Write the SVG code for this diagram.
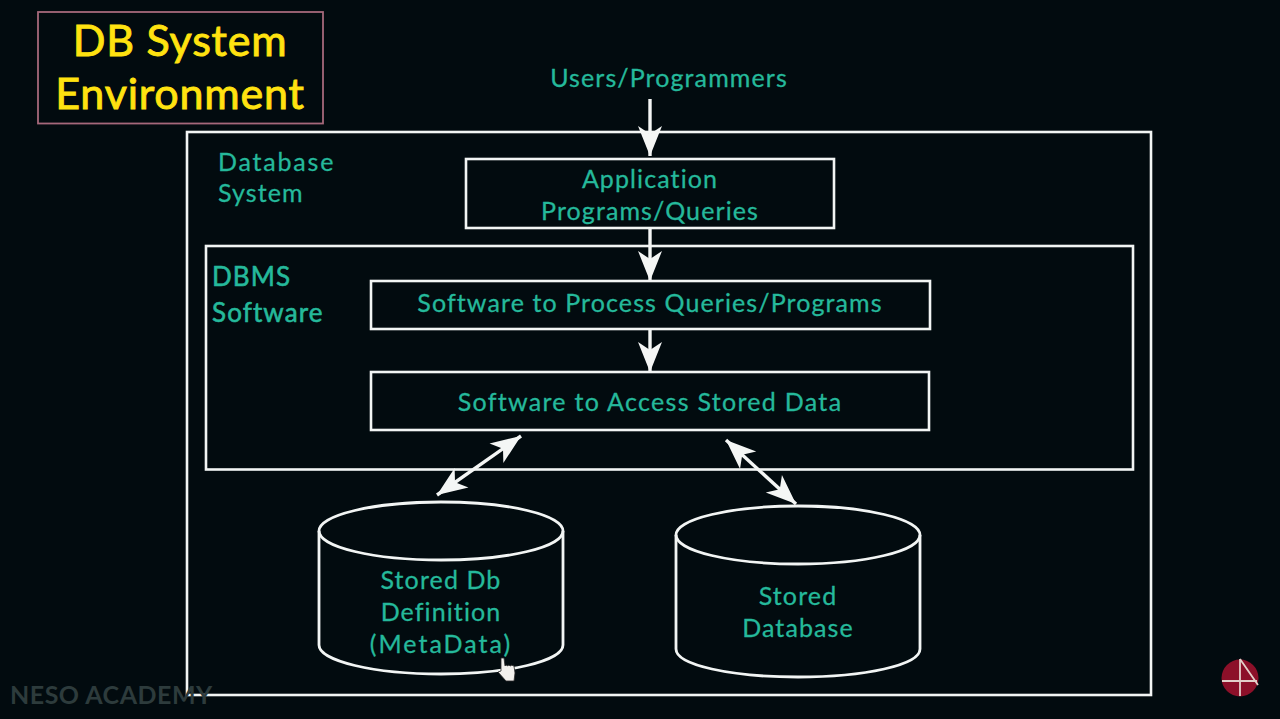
<svg xmlns="http://www.w3.org/2000/svg" width="1280" height="719" viewBox="0 0 1280 719">
<style>
.box{fill:none;stroke:#f2f5f4;stroke-width:2.600}
.t{font-family:"Lato","Open Sans",sans-serif;font-size:25px;fill:#25b99b;stroke:#25b99b;stroke-width:.3;text-anchor:middle;letter-spacing:1.100px}
.l{text-anchor:start}
.y{font-family:"Lato","Open Sans",sans-serif;font-size:43px;fill:#ffe210;stroke:#ffe210;stroke-width:.9;text-anchor:middle;letter-spacing:.8px}
.c{fill:none;stroke:#f4f6f5;stroke-width:3.400}
.cyl{fill:none;stroke:#f2f5f4;stroke-width:2.800}
</style>
<defs>
<marker id="a" markerUnits="userSpaceOnUse" markerWidth="36" markerHeight="34" refX="32" refY="17" orient="auto-start-reverse" viewBox="0 0 36 34"><path d="M32 17 L2 5 L10 17 L2 29 Z" fill="#f4f6f5"/></marker>
</defs>
<rect width="1280" height="719" fill="#020b0f"/>
<g id="title"><rect x="38" y="12" width="285" height="111.500" fill="none" stroke="#a5687a" stroke-width="1.800"/>
<text class="y" x="180" y="56">DB System</text><text class="y" x="180" y="109">Environment</text></g>
<g id="database-system"><rect class="box" x="187" y="132" width="964" height="563"/>
<text class="t l" x="218" y="171" style="letter-spacing:1.800px">Database</text><text class="t l" x="218" y="202">System</text></g>
<g id="users"><text class="t" x="669" y="87">Users/Programmers</text></g>
<g id="application"><rect class="box" x="466" y="159" width="368" height="69"/>
<text class="t" x="650" y="188">Application</text><text class="t" x="650" y="220">Programs/Queries</text></g>
<g id="dbms"><rect class="box" x="206" y="246" width="927" height="223.500"/>
<text class="t l" x="212" y="286" style="font-size:26px;stroke-width:.6">DBMS</text><text class="t l" x="212" y="322" style="font-size:26px;stroke-width:.6">Software</text></g>
<g id="process"><rect class="box" x="371" y="281" width="559" height="48"/>
<text class="t" x="650" y="312">Software to Process Queries/Programs</text></g>
<g id="access"><rect class="box" x="371" y="372" width="558" height="58"/>
<text class="t" x="650" y="411" style="letter-spacing:1.300px">Software to Access Stored Data</text></g>
<g id="metadata"><ellipse class="cyl" cx="441" cy="531" rx="122" ry="29"/>
<path class="cyl" d="M319 531V645C319 661 374 674 441 674C508 674 563 661 563 645V531"/>
<text class="t" x="441" y="589">Stored Db</text><text class="t" x="441" y="621">Definition</text><text class="t" x="441" y="653" style="letter-spacing:2px">(MetaData)</text></g>
<g id="stored-database"><ellipse class="cyl" cx="798" cy="535" rx="122" ry="29"/>
<path class="cyl" d="M676 535V649C676 665 731 677 798 677C865 677 920 665 920 649V535"/>
<text class="t" x="798" y="605">Stored</text><text class="t" x="798" y="637">Database</text></g>
<g id="connectors">
<path class="c" d="M650 99V156" marker-end="url(#a)"/>
<path class="c" d="M650 229V281" marker-end="url(#a)"/>
<path class="c" d="M650 330V372" marker-end="url(#a)"/>
<path class="c" d="M437 495L521 436" marker-start="url(#a)" marker-end="url(#a)"/>
<path class="c" d="M726 440L796 504" marker-start="url(#a)" marker-end="url(#a)"/>
</g>
<g id="cursor"><path d="M501 658h3l1 8 1-1 2 1 0-1 3 1 0-1 3 1 1 7-1 8h-8l-8-9 3-1z" fill="#f3f1ee" stroke="#2a2a2a" stroke-width=".8"/></g>
<g id="logo"><circle cx="1240" cy="678" r="18.500" fill="#8c1029"/><path d="M1240 659V696M1222 681H1257M1240 659L1258 685" fill="none" stroke="#e3cfc9" stroke-width="1.800"/></g>
<text x="10" y="704" font-family="Lato,sans-serif" font-size="25" font-weight="700" fill="#2d3b3c" letter-spacing=".5">NESO ACADEMY</text>
</svg>
